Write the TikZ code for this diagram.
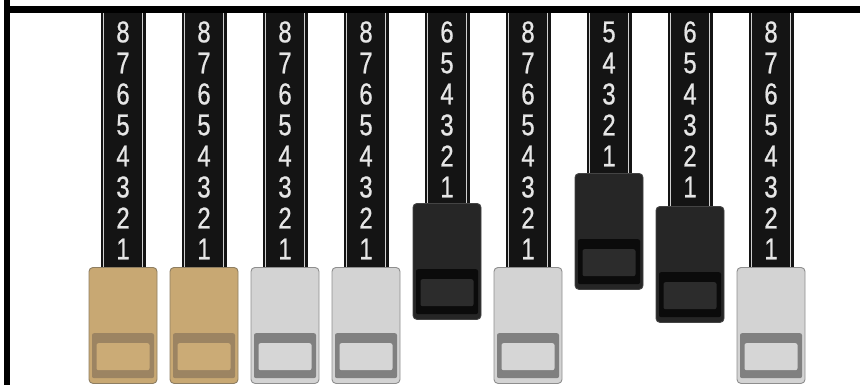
\documentclass[tikz,border=0pt]{standalone}
\usepackage{fontspec}
\newfontfamily\digitfont[FakeBold=0.8]{Liberation Sans}
\definecolor{bodytan}{HTML}{C8A873}
\definecolor{bandtan}{HTML}{9C8462}
\definecolor{innertan}{HTML}{CBAB76}
\definecolor{edgetan}{HTML}{8E7E62}
\definecolor{bodygray}{HTML}{D3D3D3}
\definecolor{bandgray}{HTML}{808080}
\definecolor{innergray}{HTML}{D6D6D6}
\definecolor{edgegray}{HTML}{8E8E8E}
\definecolor{bodyblk}{HTML}{262626}
\definecolor{bandblk}{HTML}{0B0B0B}
\definecolor{innerblk}{HTML}{2C2C2C}
\definecolor{edgeblk}{HTML}{444444}
\definecolor{shaftc}{HTML}{141414}
\definecolor{shaftl}{HTML}{D0D0D0}
\definecolor{digitc}{HTML}{E6E6E6}
\tikzset{
  shaftbox/.style={fill=shaftc, inner sep=0pt, minimum width=45pt, anchor=north},
  shaftline/.style={draw=shaftl, line width=1.5pt},
  knobbox/.style={rounded corners=4pt, line width=0.9pt, inner sep=0pt, minimum width=68pt, minimum height=116pt, anchor=north},
  bandbox/.style={rounded corners=2pt, inner sep=0pt, minimum width=62pt, minimum height=45pt, anchor=north},
  innerbox/.style={rounded corners=2pt, inner sep=0pt, minimum width=53pt, minimum height=27pt, anchor=north},
  digit/.style={text=digitc, font=\digitfont\fontsize{30}{30}\selectfont, inner sep=0pt, xscale=0.8},
  frameline/.style={fill=black}
}
\begin{document}
\begin{tikzpicture}[x=1pt,y=-1pt]
\useasboundingbox (0,0) rectangle (867,385);
\fill[white] (0,0) rectangle (867,385);
\node[frameline, inner sep=0pt, minimum width=6pt, minimum height=385pt, anchor=north west] (leftbar) at (4,0) {};
\node[frameline, inner sep=0pt, minimum width=856pt, minimum height=7pt, anchor=north west] (topbar) at (4,6) {};
\foreach \i/\n/\t/\s in {0/8/267/tan, 1/8/267/tan, 2/8/267/gray, 3/8/267/gray, 4/6/203/blk, 5/8/267/gray, 6/5/173/blk, 7/6/206/blk, 8/8/267/gray}{
  \pgfmathsetmacro{\c}{123+81*\i}
  \pgfmathsetmacro{\h}{\t-13+2}
  \node[shaftbox, minimum height=\h pt] (s\i) at (\c,13) {};
  \draw[shaftline] ([xshift=3pt]s\i.north west) -- ([xshift=3pt]s\i.south west);
  \draw[shaftline] ([xshift=-3pt]s\i.north east) -- ([xshift=-3pt]s\i.south east);
  \foreach \k in {1,...,\n}{
    \pgfmathsetmacro{\yy}{32+(\n-\k)*31}
    \node[digit] (d\i-\k) at (\c,\yy) {\k};
  }
  \node[knobbox, fill=body\s, draw=edge\s] (k\i) at (\c,\t) {};
  \node[bandbox, fill=band\s] (b\i) at ([yshift=-66pt]k\i.north) {};
  \node[innerbox, fill=inner\s] (n\i) at ([yshift=-10pt]b\i.north) {};
}
\end{tikzpicture}
\end{document}
